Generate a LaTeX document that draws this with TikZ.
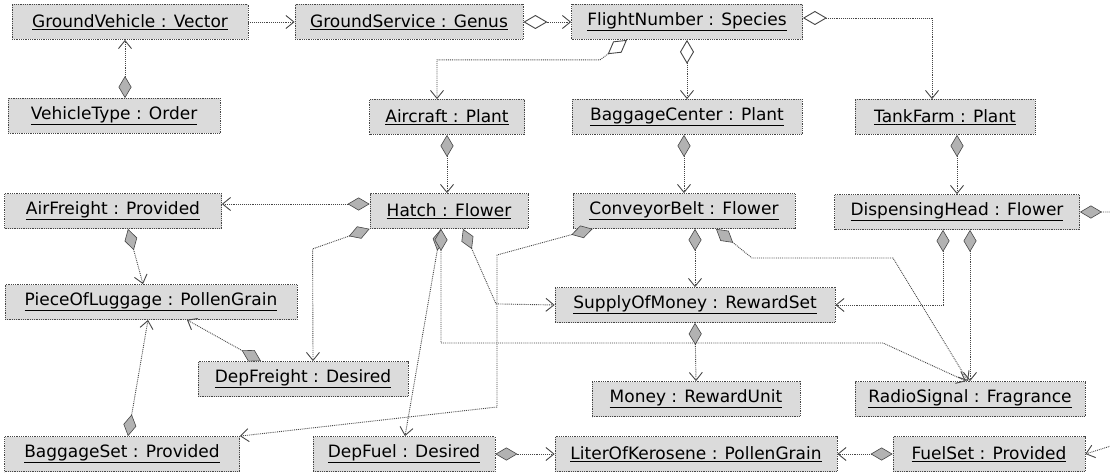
\documentclass[tikz,border=0pt]{standalone}
\usepackage{fontspec}
\setmainfont{DejaVu Sans}
\usetikzlibrary{arrows.meta}
\newcommand\objn[1]{\underline{#1}}
\tikzset{
  oarr/.tip={Straight Barb[length=8pt,width=13pt,line width=0.9pt]},
  fdia/.tip={Diamond[length=22pt,width=13pt,fill=gray!60,line width=0.6pt]},
  odia/.tip={Diamond[open,length=24pt,width=14pt,line width=0.9pt]},
}
\begin{document}
\begin{tikzpicture}[x=1pt,y=-1pt,
  box/.style={draw=gray!55!black, densely dotted, line width=0.8pt, fill=gray!28,
    inner sep=0pt, minimum height=35pt, font=\fontsize{17}{20}\selectfont},
  conn/.style={draw=gray!55!black, densely dotted, line width=0.9pt},
]
\useasboundingbox[fill=white] (0,0) rectangle (1110,473);

% row 1
\node[box, minimum width=236] (gv) at (130,22) {\objn{GroundVehicle : Vector}};
\node[box, minimum width=228] (gs) at (409,22) {\objn{GroundService : Genus}};
\node[box, minimum width=231] (fn) at (687,22) {\objn{FlightNumber : Species}};
% row 2
\node[box, minimum width=212] (vt) at (114,116) {\objn{VehicleType : Order}};
\node[box, minimum width=155] (ac) at (447,117) {\objn{Aircraft : Plant}};
\node[box, minimum width=230] (bc) at (687,117) {\objn{BaggageCenter : Plant}};
\node[box, minimum width=180] (tf) at (945,117) {\objn{TankFarm : Plant}};
% row 3
\node[box, minimum width=217] (af) at (113,211) {\objn{AirFreight : Provided}};
\node[box, minimum width=158] (ha) at (449,211) {\objn{Hatch : Flower}};
\node[box, minimum width=222] (cb) at (684,211) {\objn{ConveyorBelt : Flower}};
\node[box, minimum width=245] (dh) at (957,212) {\objn{DispensingHead : Flower}};
% row 4
\node[box, minimum width=292] (pl) at (151,302) {\objn{PieceOfLuggage : PollenGrain}};
\node[box, minimum width=280] (sm) at (695,305) {\objn{SupplyOfMoney : RewardSet}};
% row 5
\node[box, minimum width=210] (df) at (303,379) {\objn{DepFreight : Desired}};
\node[box, minimum width=208] (mo) at (696,399) {\objn{Money : RewardUnit}};
\node[box, minimum width=230] (rs) at (970,399) {\objn{RadioSignal : Fragrance}};
% row 6
\node[box, minimum width=235] (bs) at (122,454) {\objn{BaggageSet : Provided}};
\node[box, minimum width=182] (dfu) at (404,454) {\objn{DepFuel : Desired}};
\node[box, minimum width=282] (lk) at (696,454) {\objn{LiterOfKerosene : PollenGrain}};
\node[box, minimum width=192] (fs) at (989,454) {\objn{FuelSet : Provided}};

% connectors
\draw[conn, -oarr] (gv.east) -- (gs.west);
\draw[conn, fdia-oarr] ([xshift=11pt]vt.north) -- ([xshift=-5pt]gv.south);
\draw[conn, odia-oarr] (gs.east) -- (fn.west);
\draw[conn, odia-oarr] ([xshift=-60pt]fn.south) -- ++(-27,20) -| ([xshift=-10pt]ac.north);
\draw[conn, odia-oarr] (fn.south) -- (bc.north);
\draw[conn, odia-oarr] ([yshift=4pt]fn.east) -| ([xshift=-13pt]tf.north);

\draw[conn, fdia-oarr] (ac.south) -- (ac.south |- ha.north);
\draw[conn, fdia-oarr] (cb.north |- bc.south) -- (cb.north);
\draw[conn, fdia-oarr] (dh.north |- tf.south) -- (dh.north);

\draw[conn, oarr-fdia] ([yshift=7pt]af.east) -- ([yshift=7pt]ha.west);
\draw[conn, fdia-oarr] (ha.south west) -- ++(-57,20) -- ([xshift=10pt]df.north);
\draw[conn, fdia-oarr] ([xshift=15pt]af.south) -- ([xshift=-8pt]pl.north);
\draw[conn, fdia-oarr] ([xshift=-42pt]df.north) -- ([xshift=36pt]pl.south);
\draw[conn, fdia-oarr] ([xshift=6pt]bs.north) -- ([xshift=-3pt]pl.south);

\draw[conn, fdia-oarr] ([xshift=20pt]cb.south west) -- (497,255) -- (497,407) -- (bs.north east);
\draw[conn, fdia-oarr] ([xshift=-8pt]ha.south) -- ([xshift=1pt]dfu.north);
\draw[conn, fdia-oarr] ([xshift=-8pt]ha.south) -- (441,343) -- (883,343) -- ([xshift=-4pt]rs.north);
\draw[conn, fdia-oarr] ([xshift=14pt]ha.south) -- ++(33,75) -- (sm.west);

\draw[conn, fdia-oarr] (sm.north |- cb.south) -- (sm.north);
\draw[conn, fdia-oarr] ([xshift=32pt]cb.south) -- (752,258) -- (893,258) -- ([xshift=-2pt]rs.north);
\draw[conn, fdia-oarr] ([xshift=-14pt]dh.south) |- (sm.east);
\draw[conn, fdia-oarr] (rs.north |- dh.south) -- (rs.north);
\draw[conn, fdia-oarr] (dh.east) -- (1130,212) -- (1130,440) -- (fs.east);

\draw[conn, fdia-oarr] (sm.south) -- (mo.north);
\draw[conn, fdia-oarr] (dfu.east) -- (lk.west);
\draw[conn, fdia-oarr] (fs.west) -- (lk.east);
\end{tikzpicture}
\end{document}
